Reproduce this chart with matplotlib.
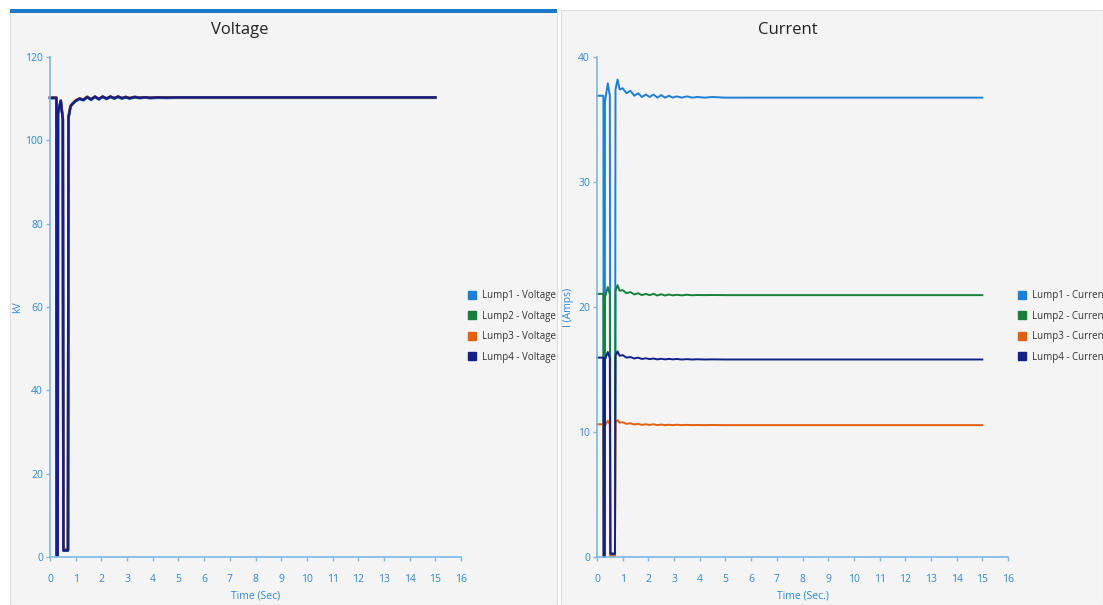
import matplotlib
matplotlib.use("Agg")
import matplotlib.pyplot as plt
from matplotlib.patches import Rectangle
from matplotlib.lines import Line2D

plt.rcParams['font.family'] = ['Open Sans', 'DejaVu Sans']

# time axis shared by every trace (seconds)
time_s = [0, 0.25, 0.26, 0.30, 0.31, 0.42, 0.50, 0.52, 0.70, 0.72, 0.80, 0.88, 1.0,
          1.15, 1.3, 1.45, 1.6, 1.75, 1.9, 2.05, 2.2, 2.35, 2.5, 2.65, 2.8, 2.95,
          3.1, 3.3, 3.5, 3.7, 3.9, 4.2, 4.5, 5.0, 6.0, 8.0, 10.0, 12.0, 15.0]

# voltage (kV)
v_lump1 = [110.1, 110.1, 0.3, 0.3, 106.4, 109.4, 104.9, 1.5, 1.5, 105.4, 108.1, 108.7, 109.4,
           109.9, 109.6, 110.3, 109.7, 110.4, 109.8, 110.4, 109.9, 110.4, 110.0, 110.4, 110.0,
           110.3, 110.0, 110.3, 110.1, 110.25, 110.1, 110.2, 110.15, 110.2, 110.2, 110.2,
           110.2, 110.2, 110.2]
v_lump2 = [110.2, 110.2, 0.4, 0.4, 106.5, 109.5, 105.0, 1.6, 1.6, 105.5, 108.2, 108.8, 109.5,
           110.0, 109.7, 110.4, 109.8, 110.5, 109.9, 110.5, 110.0, 110.5, 110.1, 110.5, 110.1,
           110.4, 110.1, 110.4, 110.2, 110.35, 110.2, 110.3, 110.25, 110.3, 110.3, 110.3,
           110.3, 110.3, 110.3]
v_lump3 = [110.3, 110.3, 0.6, 0.6, 106.7, 109.6, 105.2, 1.9, 1.9, 105.7, 108.3, 108.9, 109.6,
           110.1, 109.8, 110.5, 109.9, 110.5, 110.0, 110.5, 110.1, 110.5, 110.15, 110.5, 110.15,
           110.45, 110.15, 110.45, 110.25, 110.35, 110.25, 110.3, 110.3, 110.3, 110.3, 110.3,
           110.3, 110.3, 110.3]
v_lump4 = [110.2, 110.2, 0.4, 0.4, 106.5, 109.5, 105.0, 1.6, 1.6, 105.5, 108.2, 108.8, 109.5,
           110.0, 109.7, 110.4, 109.8, 110.5, 109.9, 110.5, 110.0, 110.5, 110.1, 110.5, 110.1,
           110.4, 110.1, 110.4, 110.2, 110.35, 110.2, 110.3, 110.25, 110.3, 110.3, 110.3,
           110.3, 110.3, 110.3]

# current (A)
c_lump1 = [36.9, 36.9, 0.0, 0.0, 36.4, 37.9, 36.9, 0.3, 0.3, 37.4, 38.2, 37.4, 37.5, 37.1,
           37.3, 36.9, 37.1, 36.8, 37.0, 36.8, 37.0, 36.75, 36.95, 36.75, 36.9, 36.75, 36.85,
           36.75, 36.85, 36.75, 36.8, 36.75, 36.8, 36.75, 36.75, 36.75, 36.75, 36.75, 36.75]
c_lump2 = [21.05, 21.05, 0.0, 0.0, 20.8, 21.6, 21.0, 0.2, 0.2, 21.3, 21.75, 21.3, 21.35, 21.1,
           21.2, 21.0, 21.1, 20.95, 21.05, 20.95, 21.05, 20.92, 21.02, 20.92, 21.0, 20.93,
           20.98, 20.93, 20.98, 20.94, 20.96, 20.95, 20.96, 20.95, 20.95, 20.95, 20.95, 20.95,
           20.95]
c_lump3 = [10.62, 10.62, 0.0, 0.0, 10.5, 10.9, 10.6, 0.1, 0.1, 10.75, 10.95, 10.75, 10.78,
           10.65, 10.7, 10.6, 10.65, 10.57, 10.62, 10.57, 10.62, 10.55, 10.6, 10.55, 10.58,
           10.55, 10.58, 10.55, 10.57, 10.55, 10.56, 10.55, 10.56, 10.55, 10.55, 10.55, 10.55,
           10.55, 10.55]
c_lump4 = [15.95, 15.95, 0.0, 0.0, 15.8, 16.4, 15.9, 0.25, 0.25, 16.1, 16.45, 16.1, 16.15,
           15.95, 16.0, 15.88, 15.95, 15.84, 15.9, 15.83, 15.88, 15.81, 15.86, 15.81, 15.85,
           15.81, 15.84, 15.8, 15.83, 15.8, 15.82, 15.8, 15.81, 15.8, 15.8, 15.8, 15.8, 15.8,
           15.8]

lump_names = ['Lump1', 'Lump2', 'Lump3', 'Lump4']
colors = ['#1e7fd6', '#17803d', '#e4600f', '#13208a']

x_ticks = list(range(0, 17))
v_ticks = [0, 20, 40, 60, 80, 100, 120]
c_ticks = [0, 10, 20, 30, 40]

axis_col = '#7ab8e8'
label_col = '#2f86d4'

fig = plt.figure(figsize=(11.03, 6.05), dpi=100)

# panel backgrounds
fig.add_artist(Rectangle((10 / 1103, 0), 547 / 1103, 1 - 10 / 605,
                         transform=fig.transFigure, facecolor='#f4f4f4',
                         edgecolor='#dddddd', lw=0.8, zorder=0))
fig.add_artist(Rectangle((10 / 1103, 1 - 13 / 605), 547 / 1103, 4 / 605,
                         transform=fig.transFigure, facecolor='#1a78c8',
                         edgecolor='none', zorder=1))
fig.add_artist(Rectangle((561 / 1103, 0), 542 / 1103, 1 - 10 / 605,
                         transform=fig.transFigure, facecolor='#f4f4f4',
                         edgecolor='#dddddd', lw=0.8, zorder=0))

ax_v = fig.add_axes([50 / 1103, 48 / 605, 411 / 1103, 500 / 605])
ax_c = fig.add_axes([597 / 1103, 48 / 605, 411 / 1103, 500 / 605])


def style_axis(ax, yticks, ylim, ylabel, xlabel):
    ax.set_facecolor('none')
    ax.set_xlim(0, 16)
    ax.set_ylim(*ylim)
    ax.set_xticks(x_ticks)
    ax.set_yticks(yticks)
    for side in ['top', 'right']:
        ax.spines[side].set_visible(False)
    for side in ['left', 'bottom']:
        ax.spines[side].set_color(axis_col)
        ax.spines[side].set_linewidth(1.2)
    ax.tick_params(axis='both', colors=axis_col, labelcolor=label_col,
                   labelsize=7.5, length=3, width=1)
    ax.tick_params(axis='x', pad=9)
    ax.tick_params(axis='y', pad=2)
    ax.set_ylabel(ylabel, color=label_col, fontsize=7.5)
    ax.set_xlabel(xlabel, color=label_col, fontsize=7.5)
    ax.xaxis.set_label_coords(0.5, -0.068)


style_axis(ax_v, v_ticks, (0, 120), 'kV', 'Time (Sec)')
style_axis(ax_c, c_ticks, (0, 40), 'I (Amps)', 'Time (Sec.)')
ax_v.yaxis.set_label_coords(-0.066, 0.5)
ax_c.yaxis.set_label_coords(-0.056, 0.5)

for vals, col in zip([v_lump1, v_lump2, v_lump3, v_lump4], colors):
    ax_v.plot(time_s, vals, color=col, lw=1.8, clip_on=False)
for vals, col in zip([c_lump1, c_lump2, c_lump3, c_lump4], colors):
    ax_c.plot(time_s, vals, color=col, lw=1.4, clip_on=False)

fig.text(240 / 1103, 1 - 30 / 605, 'Voltage', ha='center', va='center',
         fontsize=12, color='#222222')
fig.text(788 / 1103, 1 - 30 / 605, 'Current', ha='center', va='center',
         fontsize=12, color='#222222')

handles = [Line2D([], [], marker='s', linestyle='', color=c, markersize=6) for c in colors]
ax_v.legend(handles, [n + ' - Voltage' for n in lump_names], loc='upper left',
            bbox_to_anchor=(466 / 1103, 1 - 290 / 605), bbox_transform=fig.transFigure,
            frameon=False, fontsize=7, labelcolor='#333333', handletextpad=0.4,
            labelspacing=0.98, borderpad=0, borderaxespad=0, handlelength=1.2)
ax_c.legend(handles, [n + ' - Current' for n in lump_names], loc='upper left',
            bbox_to_anchor=(1016 / 1103, 1 - 290 / 605), bbox_transform=fig.transFigure,
            frameon=False, fontsize=7, labelcolor='#333333', handletextpad=0.4,
            labelspacing=0.98, borderpad=0, borderaxespad=0, handlelength=1.2)

fig.savefig('out.png', dpi=100)
